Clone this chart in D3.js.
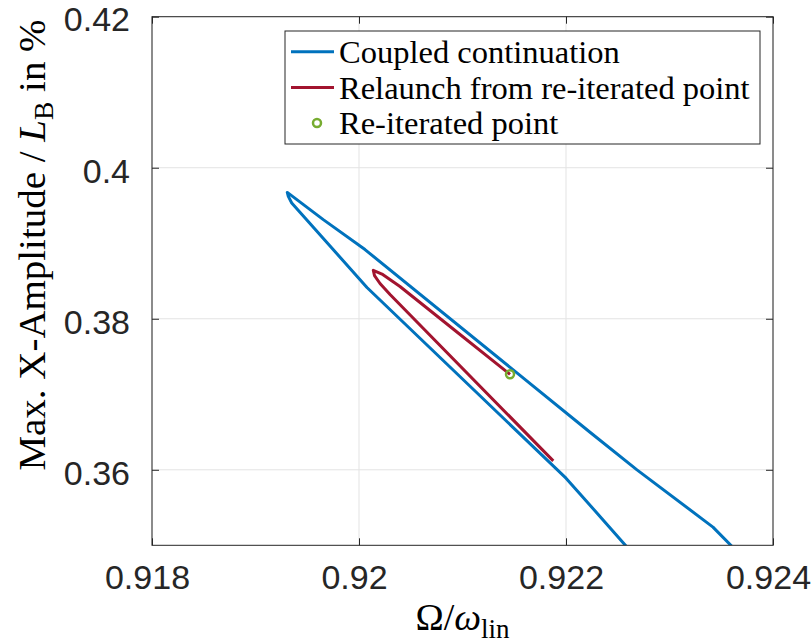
<!DOCTYPE html>
<html><head><meta charset="utf-8">
<script src="https://cdn.jsdelivr.net/npm/d3@7"></script>
<style>body{margin:0;background:#fff}svg{display:block}</style>
</head><body>
<script>
// ---- data ----
const xTicks = [0.918, 0.92, 0.922, 0.924];
const xTickLabels = ["0.918", "0.92", "0.922", "0.924"];
const yTicks = [0.36, 0.38, 0.40, 0.42];
const yTickLabels = ["0.36", "0.38", "0.4", "0.42"];

// Coupled continuation (blue)
const blueX = [0.92258, 0.922155, 0.92200, 0.920077, 0.919350, 0.919317, 0.919307, 0.919655, 0.920058, 0.922232, 0.922686, 0.923420, 0.923600];
const blueY = [0.34990, 0.35651, 0.35889, 0.38414, 0.395333, 0.396206, 0.396735, 0.393126, 0.38916, 0.36497, 0.35999, 0.35241, 0.34990];

// Relaunch from re-iterated point (red)
const redX = [0.921459, 0.920928, 0.920396, 0.920222, 0.920138, 0.920150, 0.920203, 0.920300, 0.921877];
const redY = [0.37264, 0.37845, 0.38427, 0.38592, 0.38642, 0.38572, 0.38467, 0.38321, 0.36118];

// Re-iterated point (green)
const pointX = [0.921459];
const pointY = [0.37264];

const legendLabels = ["Coupled continuation", "Relaunch from re-iterated point", "Re-iterated point"];
const colors = ["#0072BD", "#A2142F", "#77AC30"];

// ---- layout ----
const W = 811, H = 644;
const L = 152, R = 773, T = 16.7, B = 545.3;

const svg = d3.select("body").append("svg").attr("width", W).attr("height", H);
const x = d3.scaleLinear().domain([0.918, 0.924]).range([L, R]);
const y = d3.scaleLinear().domain([0.35, 0.42]).range([B, T]);

// grid
const grid = svg.append("g").attr("stroke", "#e3e3e3").attr("stroke-width", 1);
grid.selectAll("line.gx").data(xTicks).join("line")
  .attr("x1", d => x(d)).attr("x2", d => x(d)).attr("y1", T).attr("y2", B);
grid.selectAll("line.gy").data(yTicks).join("line")
  .attr("x1", L).attr("x2", R).attr("y1", d => y(d)).attr("y2", d => y(d));

// clip
svg.append("clipPath").attr("id", "clip").append("rect")
  .attr("x", L).attr("y", T).attr("width", R - L).attr("height", B - T);

const line = d3.line().x(d => x(d[0])).y(d => y(d[1]));
const plot = svg.append("g").attr("clip-path", "url(#clip)");
plot.append("path").datum(blueX.map((v, i) => [v, blueY[i]]))
  .attr("d", line).attr("fill", "none").attr("stroke", colors[0])
  .attr("stroke-width", 3).attr("stroke-linejoin", "round");
plot.append("path").datum(redX.map((v, i) => [v, redY[i]]))
  .attr("d", line).attr("fill", "none").attr("stroke", colors[1])
  .attr("stroke-width", 3).attr("stroke-linejoin", "round");
plot.selectAll("circle.pt").data(pointX.map((v, i) => [v, pointY[i]])).join("circle")
  .attr("cx", d => x(d[0])).attr("cy", d => y(d[1])).attr("r", 4)
  .attr("fill", "none").attr("stroke", colors[2]).attr("stroke-width", 2.5);

// axes (ticks inside, on all four sides)
const axisColor = "#262626";
const tickFont = "'Liberation Sans', Arial, Helvetica, sans-serif";
function styleAxis(g) {
  g.select(".domain").remove();
  g.selectAll(".tick line").attr("stroke", axisColor);
}
svg.append("g").attr("transform", `translate(0,${B})`)
  .call(d3.axisBottom(x).tickValues(xTicks).tickFormat((d, i) => xTickLabels[i]).tickSizeInner(-7).tickSizeOuter(0).tickPadding(44))
  .call(styleAxis)
  .call(g => g.selectAll(".tick text").attr("font-family", tickFont).attr("font-size", 34)
    .attr("fill", axisColor).attr("dx", -5).attr("dy", 0));
svg.append("g").attr("transform", `translate(0,${T})`)
  .call(d3.axisTop(x).tickValues(xTicks).tickFormat("").tickSizeInner(-7).tickSizeOuter(0))
  .call(styleAxis);
svg.append("g").attr("transform", `translate(${L},0)`)
  .call(d3.axisLeft(y).tickValues(yTicks).tickFormat((d, i) => yTickLabels[i]).tickSizeInner(-7).tickSizeOuter(0).tickPadding(22))
  .call(styleAxis)
  .call(g => g.selectAll(".tick text").attr("font-family", tickFont).attr("font-size", 34)
    .attr("fill", axisColor).attr("dy", "0.42em"));
svg.append("g").attr("transform", `translate(${R},0)`)
  .call(d3.axisRight(y).tickValues(yTicks).tickFormat("").tickSizeInner(-7).tickSizeOuter(0))
  .call(styleAxis);

// frame
svg.append("rect").attr("x", L).attr("y", T).attr("width", R - L).attr("height", B - T)
  .attr("fill", "none").attr("stroke", axisColor).attr("stroke-width", 1);

// axis labels
const serif = "'Liberation Serif', 'Times New Roman', serif";
const xl = svg.append("text").attr("x", (L + R) / 2).attr("y", 630).attr("text-anchor", "middle")
  .attr("font-family", serif).attr("font-size", 38).attr("fill", "#000");
xl.append("tspan").text("Ω/");
xl.append("tspan").attr("font-style", "italic").text("ω");
xl.append("tspan").attr("font-size", 27).attr("dy", 8).text("lin");

const yl = svg.append("text").attr("transform", `translate(45,245) rotate(-90) scale(1.025,1)`)
  .attr("text-anchor", "middle").attr("font-family", serif).attr("font-size", 38).attr("fill", "#000");
yl.append("tspan").text("Max. X-Amplitude / ");
yl.append("tspan").attr("font-style", "italic").text("L");
yl.append("tspan").attr("font-size", 27).attr("dy", 8).text("B");
yl.append("tspan").attr("dy", -8).text(" in %");

// legend
const lg = svg.append("g");
lg.append("rect").attr("x", 285).attr("y", 31).attr("width", 475).attr("height", 113)
  .attr("fill", "#fff").attr("stroke", axisColor).attr("stroke-width", 1);
const rows = [51.7, 87.5, 123];
legendLabels.forEach((lab, i) => {
  if (i < 2) {
    lg.append("line").attr("x1", 291).attr("x2", 334).attr("y1", rows[i]).attr("y2", rows[i])
      .attr("stroke", colors[i]).attr("stroke-width", 3);
  } else {
    lg.append("circle").attr("cx", 317).attr("cy", rows[i]).attr("r", 4)
      .attr("fill", "none").attr("stroke", colors[i]).attr("stroke-width", 2.5);
  }
  lg.append("text").attr("x", 339).attr("y", rows[i] + 11)
    .attr("font-family", serif).attr("font-size", 32.5).attr("fill", "#000").text(lab);
});
</script>
</body></html>
